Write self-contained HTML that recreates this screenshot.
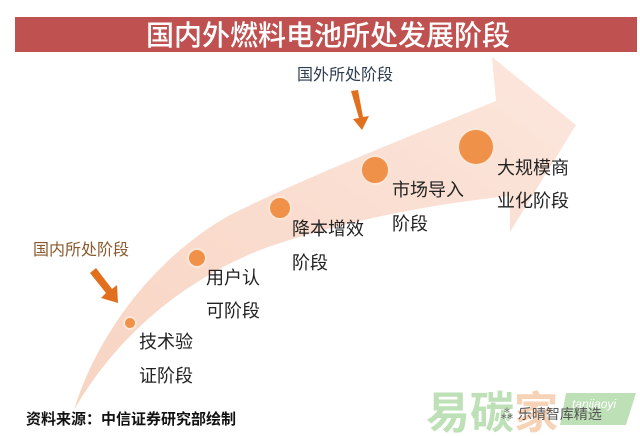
<!DOCTYPE html>
<html><head><meta charset="utf-8"><style>
html,body{margin:0;padding:0;background:#fff;}
svg{display:block;}
text{font-family:"Liberation Sans","Noto Sans CJK SC",sans-serif;}
</style></head><body>
<svg width="640" height="436" viewBox="0 0 640 436" xmlns="http://www.w3.org/2000/svg">
<defs>
<linearGradient id="ag" x1="0" y1="1" x2="1" y2="0">
<stop offset="0" stop-color="#f6c9b3"/>
<stop offset="1" stop-color="#fbe0d4"/>
</linearGradient>
</defs>
<rect x="0" y="0" width="640" height="436" fill="#fff"/>
<rect x="15" y="17" width="622" height="35" fill="#c05151"/>
<text x="328" y="45" font-size="28" fill="#fff" text-anchor="middle" font-weight="500">国内外燃料电池所处发展阶段</text>

<path d="M74,410 C95,340 150,260 230,215 C300,180 400,140 496,101 L492,57 L576,125 L510,232 L510,196 C420,205 330,225 260,250 C190,278 120,330 74,410 Z" fill="url(#ag)" opacity="0.8"/>

<g fill="#f0914a" stroke="#fbe6d8" stroke-width="2">
<circle cx="130" cy="323" r="6"/>
<circle cx="197" cy="258" r="9"/>
<circle cx="280" cy="208" r="11"/>
<circle cx="375" cy="170" r="14"/>
<circle cx="476" cy="147" r="18"/>
</g>

<g font-size="18" fill="#222">
<text x="139" y="348">技术验</text>
<text x="139" y="382">证阶段</text>
<text x="206" y="284">用户认</text>
<text x="206" y="317">可阶段</text>
<text x="292" y="235">降本增效</text>
<text x="292" y="269">阶段</text>
<text x="392" y="196">市场导入</text>
<text x="392" y="230">阶段</text>
<text x="497" y="174">大规模商</text>
<text x="497" y="207">业化阶段</text>
</g>

<text x="297" y="80" font-size="16" fill="#2e3d4f">国外所处阶段</text>
<text x="33" y="255" font-size="16" fill="#8a5a2e">国内所处阶段</text>

<g fill="#e26f1e">
<polygon points="351,91 358,90 363,117 369,116 362,130 353,119 359,118"/>
<polygon points="90,273 96,268 112,289 117,285 118,303 101,298 106,293"/>
</g>

<text x="26" y="424" font-size="15" fill="#111" font-weight="bold">资料来源：中信证券研究部绘制</text>

<g opacity="0.75">
<text x="426" y="428" font-size="44" fill="#a9d6a0" font-weight="bold">易碳</text>
<text x="514" y="428" font-size="44" fill="#f4c3a0" font-weight="bold">家</text>
<polygon points="566,393 636,393 626,425 560,425" fill="#a9d6a0"/>
<text x="572" y="408" font-size="12" fill="#fff" font-style="italic">tanjiaoyi</text>
</g>
<text x="500" y="419" font-size="14" fill="#555">⁂ 乐晴智库精选</text>
</svg>
</body></html>
